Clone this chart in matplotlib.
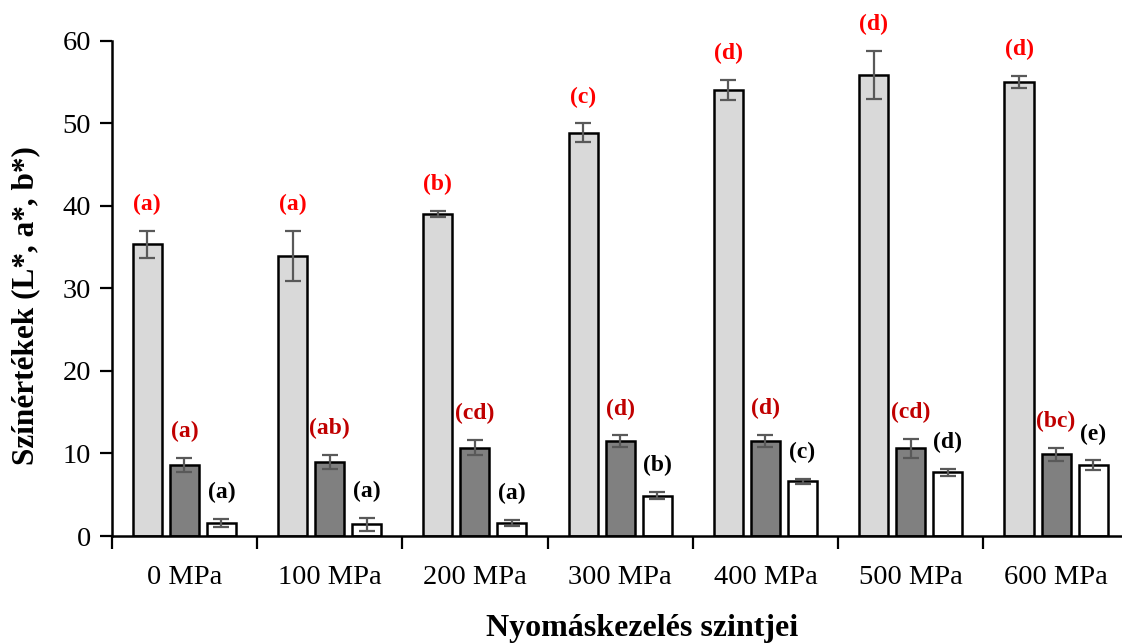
import matplotlib.pyplot as plt
import numpy as np

plt.rcParams['font.family'] = ['Liberation Serif', 'DejaVu Serif']

# pressure levels
categories = ['0 MPa', '100 MPa', '200 MPa', '300 MPa', '400 MPa', '500 MPa', '600 MPa']

# colour values (mean and SD)
L_mean = [35.3, 33.9, 39.0, 48.8, 54.0, 55.8, 55.0]
L_sd = [1.65, 3.0, 0.4, 1.15, 1.25, 2.9, 0.75]
a_mean = [8.6, 9.0, 10.7, 11.5, 11.5, 10.6, 9.9]
a_sd = [0.85, 0.85, 0.95, 0.67, 0.75, 1.15, 0.8]
b_mean = [1.6, 1.4, 1.6, 4.9, 6.6, 7.7, 8.6]
b_sd = [0.45, 0.8, 0.35, 0.45, 0.3, 0.38, 0.55]

# significance letters
L_letters = ['(a)', '(a)', '(b)', '(c)', '(d)', '(d)', '(d)']
a_letters = ['(a)', '(ab)', '(cd)', '(d)', '(d)', '(cd)', '(bc)']
b_letters = ['(a)', '(a)', '(a)', '(b)', '(c)', '(d)', '(e)']

fig = plt.figure(figsize=(11.22, 6.44), dpi=100)
ax = fig.add_axes([111.7 / 1122, 108 / 644, 1017 / 1122, 495.5 / 644])

x = np.arange(len(categories))
w = 0.2
step = 0.255
series = [
    (L_mean, L_sd, '#D9D9D9', L_letters, '#FF0000', -step),
    (a_mean, a_sd, '#808080', a_letters, '#C00000', 0.0),
    (b_mean, b_sd, '#FFFFFF', b_letters, '#000000', step),
]
for mean, sd, color, letters, lcolor, off in series:
    ax.bar(x + off, mean, w, color=color, edgecolor='black', linewidth=1.8,
           yerr=sd, error_kw=dict(ecolor='#595959', elinewidth=1.6,
                                  capsize=6, capthick=1.6), zorder=2)
    for xi, m, s, lab in zip(x + off, mean, sd, letters):
        ax.annotate(lab, (xi, m + s), xytext=(0, 19), textcoords='offset points',
                    ha='center', va='center', fontsize=17, fontweight='bold',
                    color=lcolor)

ax.set_xlim(-0.5, len(categories) - 0.5)
ax.set_ylim(0, 60)
ax.set_yticks(range(0, 61, 10))
ax.set_xticks(x)
ax.set_xticklabels(categories)
ax.set_xticks(np.arange(-0.5, len(categories), 1), minor=True)
ax.tick_params(axis='x', which='major', length=0, pad=21, labelsize=20.5)
ax.tick_params(axis='x', which='minor', length=9, width=1.6, direction='out')
ax.tick_params(axis='y', length=9, width=1.6, labelsize=20.5, pad=6)

for side in ['top', 'right']:
    ax.spines[side].set_visible(False)
for side in ['left', 'bottom']:
    ax.spines[side].set_linewidth(1.8)

ax.set_ylabel('Színértékek (L*, a*, b*)', fontsize=22.5, fontweight='bold')
ax.yaxis.set_label_coords(-0.07, 0.465)
ax.set_xlabel('Nyomáskezelés szintjei', fontsize=23, fontweight='bold')
ax.xaxis.set_label_coords(0.522, -0.157)

fig.savefig('out.png', dpi=100)
